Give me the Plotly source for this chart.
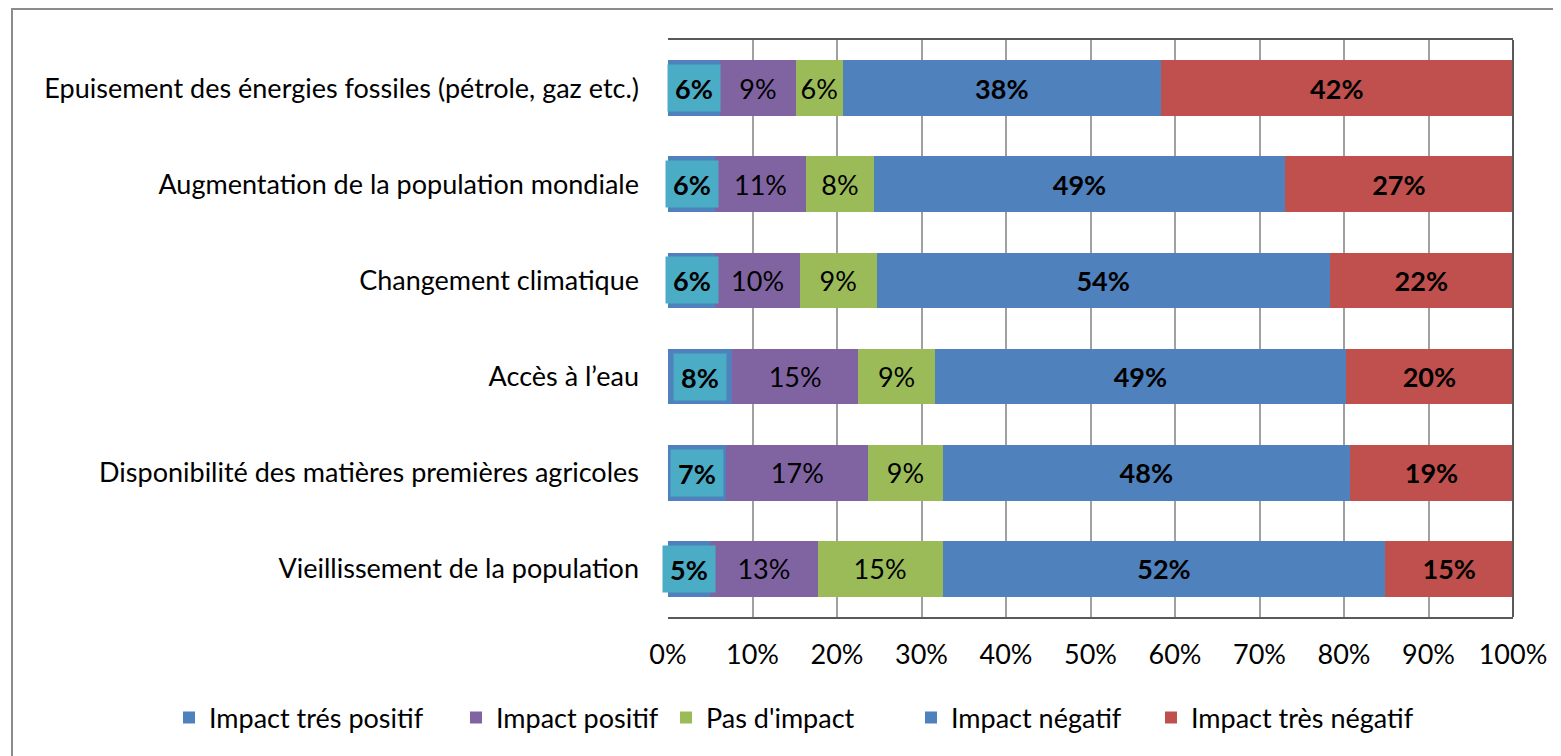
import plotly.graph_objects as go

# Categories, listed top to bottom as in the chart
categories = [
    "Epuisement des énergies fossiles (pétrole, gaz etc.)",
    "Augmentation de la population mondiale",
    "Changement climatique",
    "Accès à l’eau",
    "Disponibilité des matières premières agricoles",
    "Vieillissement de la population",
]

series_names = [
    "Impact trés positif",
    "Impact positif",
    "Pas d'impact",
    "Impact négatif",
    "Impact très négatif",
]

# Shares in %
very_positive = [6.2, 5.6, 5.6, 7.6, 6.9, 5.0]
positive = [8.9, 10.7, 10.0, 14.9, 16.8, 12.7]
no_impact = [5.6, 8.1, 9.1, 9.1, 8.8, 14.8]
negative = [37.6, 48.6, 53.6, 48.6, 48.2, 52.4]
very_negative = [41.7, 27.0, 21.7, 19.8, 19.3, 15.1]

x_ticks = [0, 10, 20, 30, 40, 50, 60, 70, 80, 90, 100]

FONT = "Lato, 'Open Sans', sans-serif"
FS = 27
colors = ["#4F81BD", "#8064A2", "#9BBB59", "#4F81BD", "#C0504D"]
label_box_color = "#4BACC6"
bold_labels = [True, False, False, True, True]

# page body has an 8px margin, so the figure is 8px smaller than the window
W, H = 1553, 748
LEFT, RIGHT, TOP, BOTTOM = 660, 48, 32, 139
plot_w = W - LEFT - RIGHT
plot_h = H - TOP - BOTTOM

# left edge (px) of each legend entry, one legend per series
legend_left_px = [161, 448, 658, 903, 1143]
legend_ids = ["legend", "legend2", "legend3", "legend4", "legend5"]

fig = go.Figure()

all_values = [very_positive, positive, no_impact, negative, very_negative]
for i, (name, values) in enumerate(zip(series_names, all_values)):
    if i == 0:
        template = ""  # labels drawn as boxed annotations below
    elif bold_labels[i]:
        template = "<b>%{x:.0f}%</b>"
    else:
        template = "%{x:.0f}%"
    fig.add_trace(go.Bar(
        y=categories,
        x=values,
        name=name,
        orientation="h",
        marker=dict(color=colors[i], line=dict(width=0)),
        width=0.58,
        texttemplate=template,
        textposition="inside",
        insidetextanchor="middle",
        textfont=dict(family=FONT, size=FS, color="black"),
        hoverinfo="skip",
        legend=legend_ids[i],
    ))

# Boxed labels of the first series
for cat, v in zip(categories, very_positive):
    fig.add_annotation(
        x=v / 2, y=cat, xref="x", yref="y",
        text=f"<b>{v:.0f}%</b>",
        showarrow=False,
        bgcolor=label_box_color,
        width=52, height=46, borderpad=0,
        font=dict(family=FONT, size=FS, color="black"),
    )

# Outer chart frame (cut at the right and bottom edges)
fig.add_shape(
    type="rect", xref="paper", yref="paper",
    x0=(4 - LEFT) / plot_w, x1=(W + 10 - LEFT) / plot_w,
    y0=-(BOTTOM + 10) / plot_h, y1=1 + (TOP - 1) / plot_h,
    line=dict(color="#8C8C8C", width=2), layer="below",
)
# Right border of the plot area
fig.add_shape(
    type="line", xref="paper", yref="paper",
    x0=1, x1=1, y0=0, y1=1,
    line=dict(color="#595959", width=2),
)

legend_y = -(710 - (H - BOTTOM)) / plot_h
legends = {}
for lid, px in zip(legend_ids, legend_left_px):
    legends[lid] = dict(
        orientation="h",
        x=(px - LEFT) / plot_w, xanchor="left",
        y=legend_y, yanchor="middle",
        font=dict(family=FONT, size=FS, color="black"),
        itemwidth=30,
        bgcolor="rgba(0,0,0,0)",
    )

fig.update_layout(
    width=W, height=H,
    barmode="stack",
    bargap=0.42,
    plot_bgcolor="white",
    paper_bgcolor="white",
    font=dict(family=FONT, size=FS, color="black"),
    margin=dict(l=LEFT, r=RIGHT, t=TOP, b=BOTTOM, autoexpand=False),
    uniformtext=dict(minsize=FS, mode="show"),
    showlegend=True,
    **legends,
    xaxis=dict(
        range=[0, 100],
        tickvals=x_ticks,
        ticktext=[f"{t}%" for t in x_ticks],
        showgrid=True,
        gridcolor="#A0A0A0",
        gridwidth=2,
        zeroline=False,
        showline=True,
        linecolor="#595959",
        linewidth=2,
        mirror=True,
        ticks="",
        ticklabelstandoff=13,
        tickfont=dict(family=FONT, size=FS, color="black"),
    ),
    yaxis=dict(
        categoryorder="array",
        categoryarray=categories,
        autorange="reversed",
        showgrid=False,
        zeroline=False,
        showline=False,
        ticks="",
        ticklabelstandoff=28,
        tickfont=dict(family=FONT, size=FS, color="black"),
    ),
)

fig.write_html("out.html")
